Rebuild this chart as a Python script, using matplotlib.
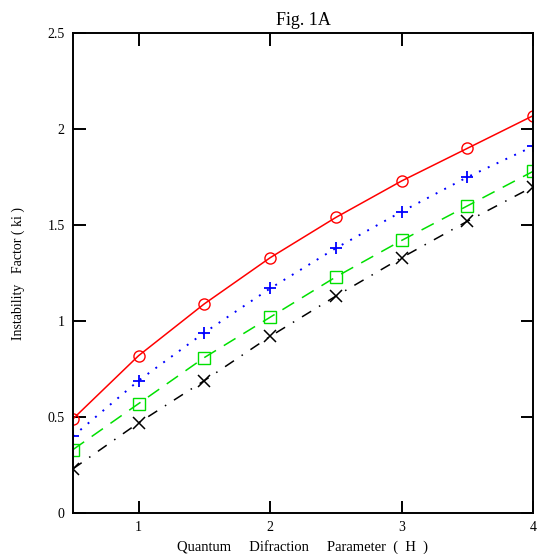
"""Instability factor vs quantum diffraction parameter (Fig. 1A)."""

import matplotlib

matplotlib.use("Agg")
import matplotlib.pyplot as plt

# data
h_values = [0.5, 1.0, 1.5, 2.0, 2.5, 3.0, 3.5, 4.0]
ki_red = [0.49, 0.82, 1.09, 1.33, 1.54, 1.73, 1.90, 2.07]
ki_blue = [0.40, 0.69, 0.94, 1.17, 1.38, 1.57, 1.75, 1.91]
ki_green = [0.33, 0.57, 0.81, 1.02, 1.23, 1.42, 1.60, 1.78]
ki_black = [0.23, 0.47, 0.69, 0.92, 1.13, 1.33, 1.52, 1.70]

x_ticks = [1, 2, 3, 4]
y_ticks = [0, 0.5, 1, 1.5, 2, 2.5]
y_tick_labels = ["0", "0.5", "1", "1.5", "2", "2.5"]

plt.rcParams.update(
    {
        "font.family": ["Liberation Serif", "DejaVu Serif"],
        "font.size": 10,
    }
)

fig = plt.figure(figsize=(5.4, 5.54), dpi=100)
ax = fig.add_axes([0.135, 0.074, 0.852, 0.866])

ax.plot(h_values, ki_red, color="#ff0000", linewidth=1.1, marker="o",
        markersize=8, markerfacecolor="none", markeredgewidth=1.0)
ax.plot(h_values, ki_blue, color="#0000ff", linewidth=1.4, linestyle=(0, (1, 4)),
        marker="+", markersize=9, markeredgewidth=1.3)
ax.plot(h_values, ki_green, color="#00e000", linewidth=1.1, linestyle=(0, (9, 6)),
        marker="s", markersize=8, markerfacecolor="none", markeredgewidth=1.0)
ax.plot(h_values, ki_black, color="black", linewidth=1.1, linestyle=(0, (7, 6, 1, 6)),
        marker="x", markersize=9, markeredgewidth=1.1)

ax.set_xlim(0.5, 4)
ax.set_ylim(0, 2.5)
ax.set_xticks(x_ticks)
ax.set_yticks(y_ticks)
ax.set_yticklabels(y_tick_labels)
ax.tick_params(direction="in", length=9, width=1.4, top=True, right=True,
               labelsize=10, pad=6)
for spine in ax.spines.values():
    spine.set_linewidth(1.4)

ax.set_title("Fig. 1A", fontsize=13, pad=6)
ax.set_xlabel("Quantum     Difraction     Parameter  (  H  )", fontsize=10.5, labelpad=4)
ax.set_ylabel("Instability   Factor ( ki )", fontsize=10)
ax.yaxis.set_label_coords(-0.105, 0.5)

fig.savefig("out.png", dpi=100)
